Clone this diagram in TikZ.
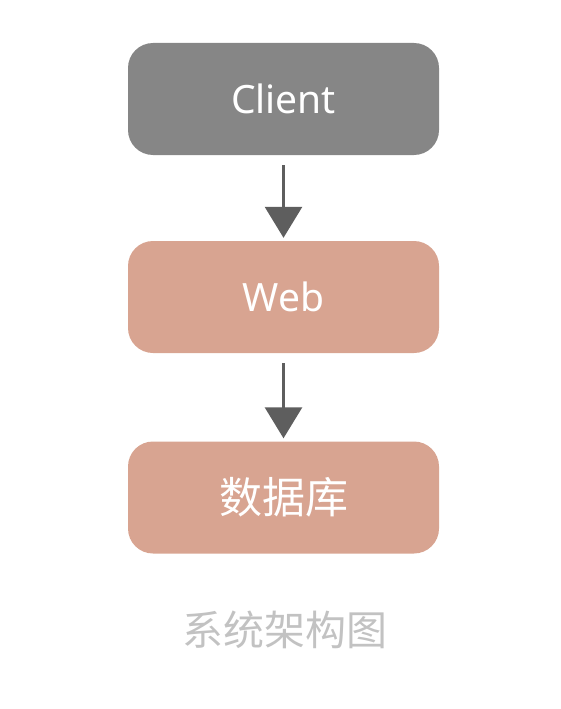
\documentclass[tikz,border=0pt]{standalone}
\usepackage{fontspec}
\setmainfont{Noto Sans}
\newfontfamily\cjk{Noto Sans CJK SC}
\usetikzlibrary{arrows.meta}
\definecolor{boxgray}{HTML}{868686}
\definecolor{boxsalmon}{HTML}{D8A491}
\definecolor{arrowgray}{HTML}{5E5E5E}
\definecolor{capgray}{HTML}{C2C2C2}
\tikzset{
  layerbox/.style={rectangle, rounded corners=25pt, minimum width=311pt, minimum height=112pt, inner sep=0pt, text=white},
  latinlabel/.style={font=\fontsize{39}{42}\selectfont},
  cjklabel/.style={font=\cjk\fontsize{43}{46}\selectfont},
  flowarrow/.style={draw=arrowgray, line width=3pt, -{Triangle[width=37pt,length=31pt]}, shorten <=10pt, shorten >=3pt}
}
\begin{document}
\begin{tikzpicture}[x=1pt,y=-1pt]
\useasboundingbox (0,0) rectangle (560,709);
\node[layerbox, fill=boxgray, latinlabel] (client) at (283.5,99) {Client};
\node[layerbox, fill=boxsalmon, latinlabel] (web) at (283.5,297) {Web};
\node[layerbox, fill=boxsalmon, cjklabel] (db) at (283.5,497.5) {数据库};
\node[text=capgray, font=\cjk\fontsize{41}{45}\selectfont] (cap) at (285,630) {系统架构图};
\draw[flowarrow] (client.south) -- (web.north);
\draw[flowarrow] (web.south) -- (db.north);
\end{tikzpicture}
\end{document}
